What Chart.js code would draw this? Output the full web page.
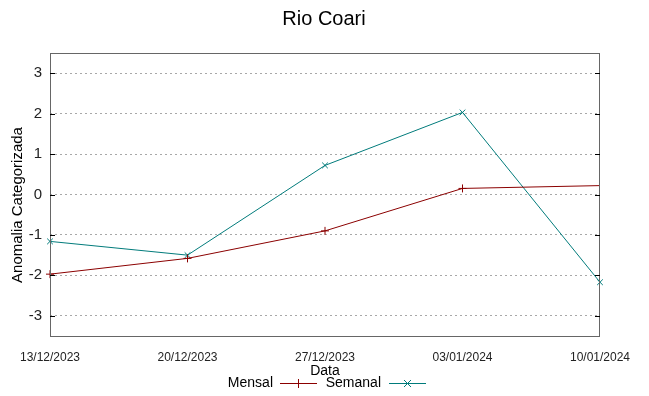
<!DOCTYPE html>
<html lang="pt">
<head>
  <meta charset="UTF-8">
  <title>Rio Coari</title>
  <script src="https://cdn.jsdelivr.net/npm/chart.js"></script>
  <style>
    html, body { margin: 0; padding: 0; background: #fff; }
    #wrap { width: 649px; height: 396px; }
  </style>
</head>
<body>
<div id="wrap"><canvas id="chart" width="649" height="396"></canvas></div>
<script>
  // Data
  const dates = ["13/12/2023", "20/12/2023", "27/12/2023", "03/01/2024", "10/01/2024"];
  const mensal = [-1.97, -1.58, -0.90, 0.15, 0.22];
  const semanal = [-1.16, -1.50, 0.72, 2.03, -2.17];
  const yTicks = [-3, -2, -1, 0, 1, 2, 3];

  const RED = "#8b0000";
  const TEAL = "#007b7b";
  const FONT = "'Liberation Sans', Arial, sans-serif";

  // gnuplot-like frame, inward ticks, titles and legend
  const decor = {
    id: "decor",
    afterDraw(chart) {
      const { ctx, chartArea: a, scales } = chart;
      ctx.save();
      // frame
      ctx.strokeStyle = "#666";
      ctx.lineWidth = 1;
      ctx.strokeRect(a.left + 0.5, a.top + 0.5, a.right - a.left - 1, a.bottom - a.top);
      // inward y ticks on both sides
      ctx.strokeStyle = "#000";
      yTicks.forEach(v => {
        const y = Math.round(scales.y.getPixelForValue(v)) + 0.5;
        ctx.beginPath();
        ctx.moveTo(a.left, y); ctx.lineTo(a.left + 5, y);
        ctx.moveTo(a.right - 5, y); ctx.lineTo(a.right, y);
        ctx.stroke();
      });
      // title
      ctx.fillStyle = "#000";
      ctx.textAlign = "center";
      ctx.textBaseline = "middle";
      ctx.font = "20px " + FONT;
      ctx.fillText("Rio Coari", 324, 19);
      // x axis title
      ctx.font = "14px " + FONT;
      ctx.fillText("Data", 325, 371);
      // y axis title
      ctx.save();
      ctx.font = "15px " + FONT;
      ctx.translate(18, 205);
      ctx.rotate(-Math.PI / 2);
      ctx.fillText("Anomalia Categorizada", 0, 0);
      ctx.restore();
      // legend
      const ly = 383;
      ctx.textAlign = "right";
      ctx.fillText("Mensal", 273, ly);
      ctx.fillText("Semanal", 381, ly);
      ctx.lineWidth = 1;
      ctx.strokeStyle = RED;
      ctx.beginPath();
      ctx.moveTo(280, ly + 0.5); ctx.lineTo(317, ly + 0.5);
      ctx.moveTo(298.5, ly - 4); ctx.lineTo(298.5, ly + 5);
      ctx.stroke();
      ctx.strokeStyle = TEAL;
      ctx.beginPath();
      ctx.moveTo(389, ly + 0.5); ctx.lineTo(426, ly + 0.5);
      ctx.moveTo(404, ly - 3); ctx.lineTo(411, ly + 4);
      ctx.moveTo(404, ly + 4); ctx.lineTo(411, ly - 3);
      ctx.stroke();
      ctx.restore();
    }
  };

  new Chart(document.getElementById("chart"), {
    type: "line",
    data: {
      labels: dates,
      datasets: [
        {
          label: "Mensal",
          data: mensal,
          borderColor: RED,
          backgroundColor: RED,
          borderWidth: 1,
          pointStyle: "cross",
          pointRadius: [4, 4, 4, 4, 0],
          pointBorderWidth: 1,
          tension: 0
        },
        {
          label: "Semanal",
          data: semanal,
          borderColor: TEAL,
          backgroundColor: TEAL,
          borderWidth: 1,
          pointStyle: "crossRot",
          pointRadius: 4,
          pointBorderWidth: 1,
          tension: 0
        }
      ]
    },
    options: {
      responsive: false,
      animation: false,
      layout: { padding: { top: 53, right: 49, left: 0, bottom: 0 } },
      plugins: { legend: { display: false }, tooltip: { enabled: false }, title: { display: false } },
      scales: {
        x: {
          type: "category",
          offset: false,
          grid: { display: false, drawTicks: false },
          border: { display: false },
          afterFit(scale) { scale.height = 60; },
          ticks: {
            padding: 14,
            maxRotation: 0,
            autoSkip: false,
            color: "#222",
            font: { family: FONT, size: 12 }
          }
        },
        y: {
          min: -3.5,
          max: 3.5,
          afterFit(scale) { scale.width = 50; },
          afterBuildTicks(scale) { scale.ticks = yTicks.map(v => ({ value: v })); },
          grid: {
            color: "#a8a8a8",
            lineWidth: 1,
            drawTicks: false
          },
          border: { display: false, dash: [2, 3] },
          ticks: {
            padding: 8,
            color: "#222",
            font: { family: FONT, size: 15 }
          }
        }
      }
    },
    plugins: [decor]
  });
</script>
</body>
</html>
